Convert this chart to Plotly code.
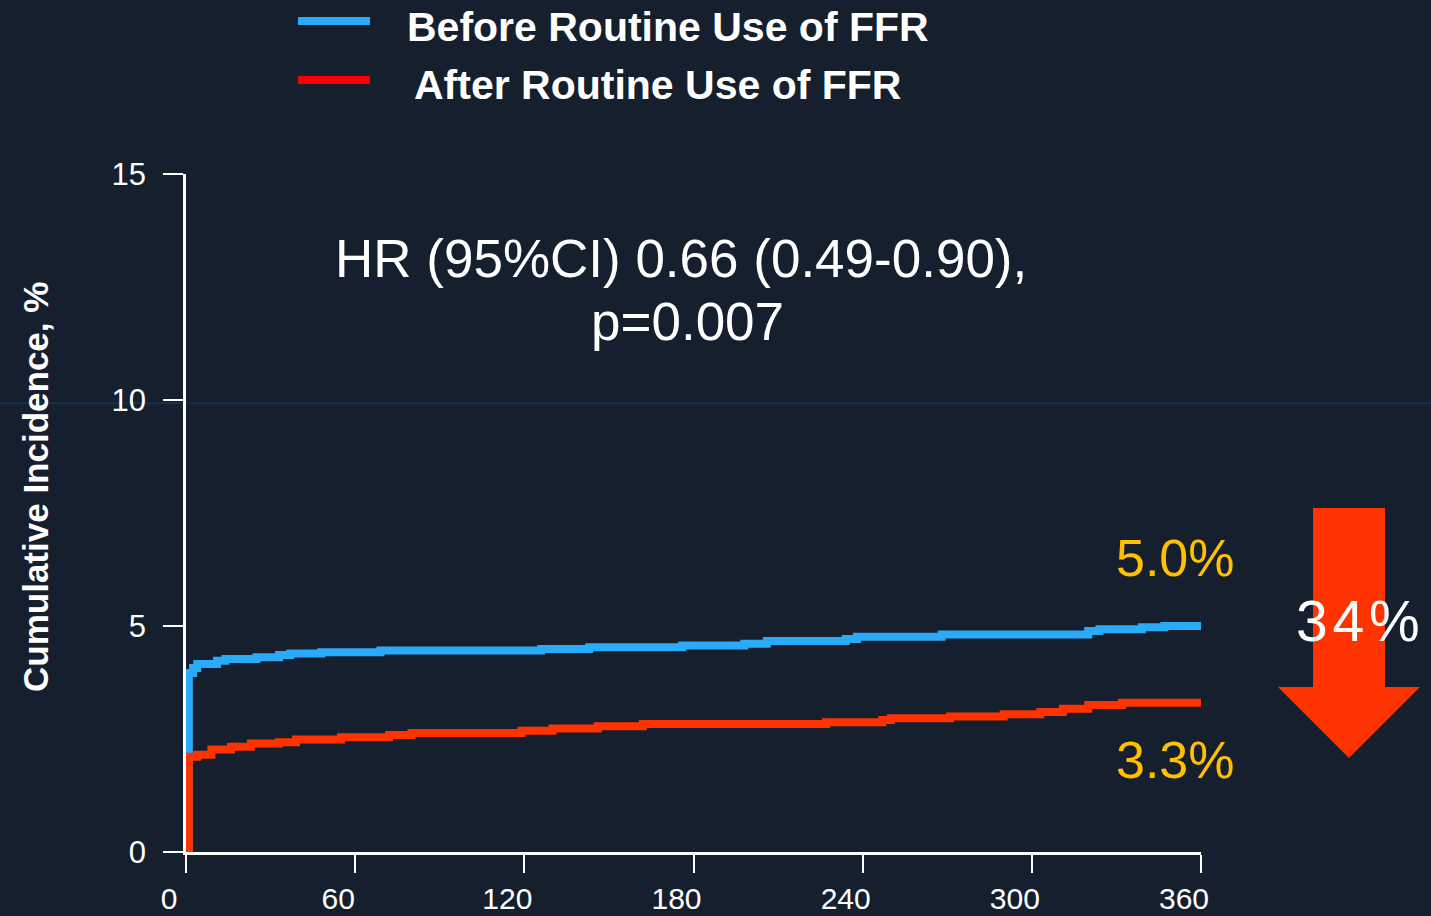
import plotly.graph_objects as go

# Kaplan-Meier style cumulative incidence (days, %)
before_days = [1, 1, 2.5, 4, 11, 14, 25, 33, 37, 48, 69,
               126, 143, 176, 198, 206, 234, 238, 268, 320, 324,
               339, 347, 361]
before_inc = [0, 3.96, 4.07, 4.16, 4.23, 4.27, 4.31, 4.36, 4.39, 4.42, 4.46,
              4.49, 4.53, 4.57, 4.61, 4.67, 4.71, 4.76, 4.81, 4.89, 4.93,
              4.97, 5.0, 5.0]

after_days = [1, 1, 4, 9, 16, 23, 33, 39, 55, 72, 80,
              119, 130, 146, 162, 227, 247, 250, 271, 290, 303,
              311, 320, 332, 361]
after_inc = [0, 2.11, 2.15, 2.27, 2.33, 2.40, 2.43, 2.49, 2.54, 2.59, 2.63,
             2.68, 2.73, 2.78, 2.83, 2.87, 2.92, 2.96, 3.0, 3.05, 3.1,
             3.17, 3.25, 3.3, 3.3]

x_ticks = [0, 60, 120, 180, 240, 300, 360]
y_ticks = [0, 5, 10, 15]

series_names = ["Before Routine Use of FFR", "After Routine Use of FFR"]
hr_text = ["HR (95%CI) 0.66 (0.49-0.90),", "p=0.007"]
end_labels = ["5.0%", "3.3%"]
reduction_label = "3\u200a4\u200a%"

BG = "#161f2e"
BLUE = "#29abf9"
RED = "#ff3300"
GOLD = "#ffc000"
FONT = "Liberation Sans, Arial, sans-serif"

W, H = 1431, 916
L, R, T, B = 186, 230, 174, 64
PW, PH = W - L - R, H - T - B


# pixel -> paper helpers for the decorations around the plot
def px(xp):
    return (xp - L) / PW


def py(yp):
    return (H - B - yp) / PH


fig = go.Figure()

fig.add_trace(go.Scatter(x=before_days, y=before_inc, mode='lines', name=series_names[0],
                         line=dict(color=BLUE, width=8, shape='hv'), showlegend=False))
fig.add_trace(go.Scatter(x=after_days, y=after_inc, mode='lines', name=series_names[1],
                         line=dict(color=RED, width=8, shape='hv'), showlegend=False))

shapes = []
# faint line across the slide
shapes.append(dict(type='line', xref='paper', yref='y', x0=px(0), x1=px(W), y0=9.93, y1=9.93,
                   line=dict(color="#143050", width=2), layer='below'))
# legend lines
shapes.append(dict(type='line', xref='paper', yref='paper', x0=px(298), x1=px(370), y0=py(21), y1=py(21),
                   line=dict(color=BLUE, width=8)))
shapes.append(dict(type='line', xref='paper', yref='paper', x0=px(298), x1=px(370), y0=py(80), y1=py(80),
                   line=dict(color="#ff0000", width=8)))
# arrow
pts = [(1313, 508), (1385, 508), (1385, 687), (1420, 687), (1349, 758), (1278, 687), (1313, 687)]
path = "M " + " L ".join(f"{px(a):.5f},{py(b):.5f}" for a, b in pts) + " Z"
shapes.append(dict(type='path', xref='paper', yref='paper', path=path,
                   fillcolor=RED, line=dict(width=0)))

annotations = [
    dict(text=series_names[0], x=px(405), y=py(27), xanchor='left', yanchor='middle',
         font=dict(family=FONT, size=41, color='white', weight='bold')),
    dict(text=series_names[1], x=px(412), y=py(85), xanchor='left', yanchor='middle',
         font=dict(family=FONT, size=41, color='white', weight='bold')),
    dict(text=hr_text[0], x=px(681), y=py(258), xanchor='center', yanchor='middle',
         font=dict(family=FONT, size=53, color='white')),
    dict(text=hr_text[1], x=px(687), y=py(321), xanchor='center', yanchor='middle',
         font=dict(family=FONT, size=53, color='white')),
    dict(text=end_labels[0], x=px(1175), y=py(558), xanchor='center', yanchor='middle',
         font=dict(family=FONT, size=52, color=GOLD)),
    dict(text=end_labels[1], x=px(1175), y=py(760), xanchor='center', yanchor='middle',
         font=dict(family=FONT, size=52, color=GOLD)),
    dict(text=reduction_label, x=px(1358), y=py(621), xanchor='center', yanchor='middle',
         font=dict(family=FONT, size=57, color='white')),
    dict(text="Cumulative Incidence, %", x=px(35), y=py(487), xanchor='center', yanchor='middle',
         textangle=-90, font=dict(family=FONT, size=35, color='white', weight='bold')),
]
for a in annotations:
    a.update(xref='paper', yref='paper', showarrow=False)

fig.update_layout(
    width=W, height=H,
    margin=dict(l=L, r=R, t=T, b=B, pad=0, autoexpand=False),
    paper_bgcolor=BG, plot_bgcolor=BG,
    shapes=shapes, annotations=annotations,
    font=dict(family=FONT, color='white'),
)

fig.update_xaxes(range=[0, 360], tickvals=x_ticks, ticks='outside', ticklen=18, tickwidth=2,
                 tickcolor='white', showline=True, linecolor='white', linewidth=3,
                 showgrid=False, zeroline=False, ticklabelshift=-17, ticklabelstandoff=0,
                 automargin=False, tickfont=dict(family=FONT, size=30, color='white'))
fig.update_yaxes(range=[0, 15], tickvals=y_ticks, ticks='outside', ticklen=20, tickwidth=2,
                 tickcolor='white', showline=True, linecolor='white', linewidth=2.5,
                 showgrid=False, zeroline=False, ticklabelstandoff=11,
                 automargin=False, tickfont=dict(family=FONT, size=31, color='white'))

fig.write_html("out.html", config={'displayModeBar': False}, post_script=(
    "document.body.style.margin='0';"
    "document.body.style.background='" + BG + "';"
))
